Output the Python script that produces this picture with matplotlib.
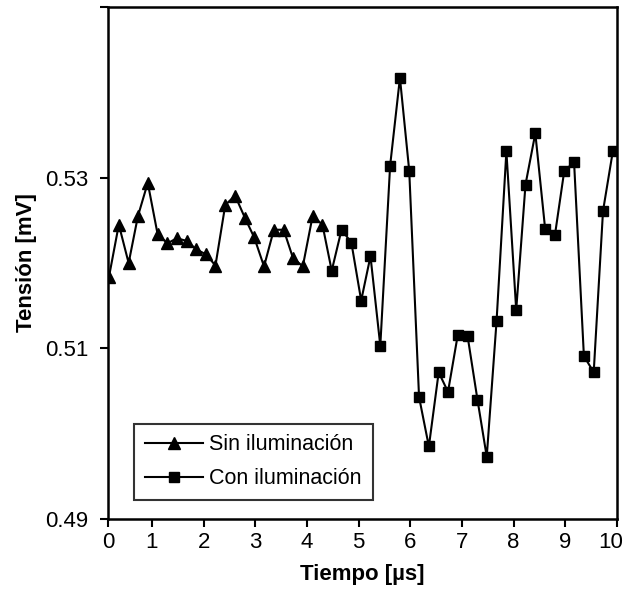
import matplotlib.pyplot as plt
from matplotlib.transforms import ScaledTranslation

# === DATA ===
tiempo_sin = [0.17, 0.36, 0.55, 0.73, 0.92, 1.11, 1.30, 1.48, 1.67, 1.86,
              2.05, 2.23, 2.42, 2.61, 2.80, 2.98, 3.17, 3.36, 3.55, 3.73,
              3.92, 4.11, 4.30]
tension_sin = [0.5184, 0.5245, 0.5200, 0.5255, 0.5294, 0.5234, 0.5223, 0.5229,
               0.5226, 0.5216, 0.5210, 0.5197, 0.5268, 0.5279, 0.5253, 0.5230,
               0.5196, 0.5239, 0.5239, 0.5206, 0.5196, 0.5255, 0.5245]

tiempo_con = [4.48, 4.67, 4.86, 5.05, 5.23, 5.42, 5.61, 5.80, 5.98, 6.17,
              6.36, 6.55, 6.73, 6.92, 7.11, 7.30, 7.48, 7.67, 7.86, 8.05,
              8.23, 8.42, 8.61, 8.80, 8.98, 9.17, 9.36, 9.55, 9.73, 9.92]
tension_con = [0.5191, 0.5239, 0.5224, 0.5156, 0.5208, 0.5103, 0.5314, 0.5417,
               0.5308, 0.5043, 0.4985, 0.5072, 0.5049, 0.5116, 0.5114, 0.5040,
               0.4973, 0.5132, 0.5331, 0.5145, 0.5292, 0.5352, 0.5240, 0.5233,
               0.5308, 0.5318, 0.5091, 0.5072, 0.5261, 0.5331]

x_ticks = [0.15, 1, 2, 3, 4, 5, 6, 7, 8, 9, 10]
x_labels = ["0", "1", "2", "3", "4", "5", "6", "7", "8", "9", "10"]
y_ticks = [0.49, 0.51, 0.53, 0.55]
y_labels = ["0.49", "0.51", "0.53", ""]

plt.rcParams['font.family'] = ['Liberation Sans', 'DejaVu Sans']

fig = plt.figure(figsize=(6.27, 5.90), dpi=100)
ax = fig.add_axes([0.1722, 0.1203, 0.8118, 0.8678])

# tramo que une las dos series
ax.plot([tiempo_sin[-1], tiempo_con[0]], [tension_sin[-1], tension_con[0]],
        color="black", linewidth=1.5)
ax.plot(tiempo_sin, tension_sin, color="black", linewidth=1.5, marker="^",
        markersize=9, label="Sin iluminación")
ax.plot(tiempo_con, tension_con, color="black", linewidth=1.5, marker="s",
        markersize=7.5, label="Con iluminación")

ax.set_xlim(0.15, 10)
ax.set_ylim(0.49, 0.55)
ax.set_xticks(x_ticks)
ax.set_xticklabels(x_labels)
ax.set_yticks(y_ticks)
ax.set_yticklabels(y_labels)
ax.tick_params(axis="both", direction="out", length=6, width=1.5,
               labelsize=16, colors="black")
ax.tick_params(axis="y", pad=8)
ax.tick_params(axis="x", pad=3)

# el "10" se corre un poco a la izquierda para que quepa
last = ax.get_xticklabels()[-1]
last.set_transform(last.get_transform() + ScaledTranslation(-6 / 100, 0, fig.dpi_scale_trans))

for s in ax.spines.values():
    s.set_linewidth(1.8)
    s.set_color("black")

ax.set_xlabel("Tiempo [µs]", fontsize=16, fontweight="bold", labelpad=8)
ax.set_ylabel("Tensión [mV]", fontsize=16, fontweight="bold", labelpad=6)

leg = ax.legend(loc="lower left", bbox_to_anchor=(0.051, 0.037), fontsize=15.5,
                frameon=True, fancybox=False, handlelength=2.7,
                borderpad=0.5, labelspacing=0.6, handletextpad=0.3,
                borderaxespad=0)
leg.get_frame().set_edgecolor("black")
leg.get_frame().set_linewidth(1.5)

fig.savefig("out.png", dpi=100)
